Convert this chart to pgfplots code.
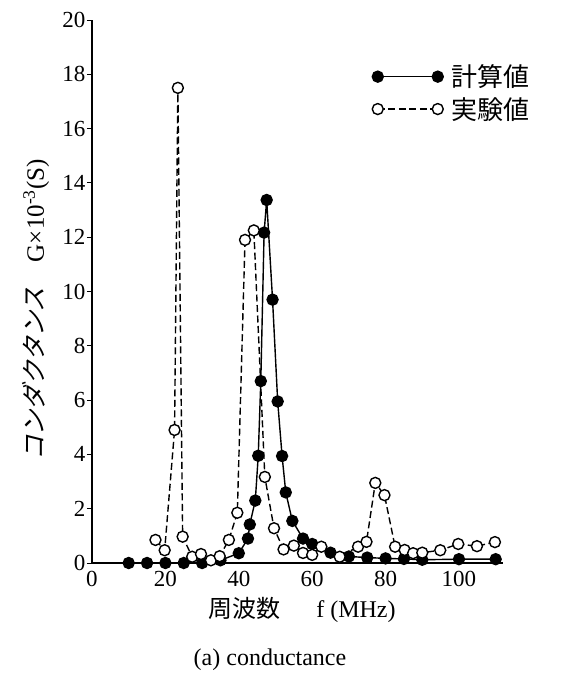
\documentclass[border=0pt]{standalone}
\usepackage{pgfplots}
\pgfplotsset{compat=1.18}
\usepackage{fontspec}
\setmainfont{Liberation Serif}
\newfontfamily\jp{Noto Sans CJK JP}
\newfontfamily\jpsl[FakeSlant=0.25]{Noto Sans CJK JP}

\pgfplotstableread{
x y
10 0
15 0
20 0
25 0
30 0
35 0.1
40 0.36
42.5 0.9
43 1.42
44.5 2.3
45.3 3.95
46 6.7
46.9 12.17
47.6 13.37
49.2 9.7
50.6 5.95
51.8 3.94
52.8 2.6
54.6 1.55
57.5 0.9
60 0.7
65 0.38
70 0.24
75 0.2
80 0.17
85 0.15
90 0.12
100 0.14
110 0.14
}\calc

\pgfplotstableread{
x y
17.3 0.85
19.8 0.47
22.5 4.9
23.4 17.5
24.7 0.97
27.3 0.23
29.7 0.33
32.4 0.1
34.8 0.25
37.3 0.85
39.6 1.85
41.7 11.9
44.1 12.25
47.1 3.17
49.6 1.28
52.2 0.5
55 0.64
57.5 0.37
60 0.3
62.5 0.6
67.5 0.23
72.5 0.6
74.8 0.78
77.2 2.95
79.7 2.5
82.6 0.6
85.2 0.48
87.5 0.36
90 0.38
94.9 0.47
99.8 0.7
104.9 0.62
109.8 0.77
}\expt

\begin{document}
\begin{tikzpicture}
\begin{axis}[
  at={(0,0)}, anchor=south west,
  scale only axis, width=411pt, height=543pt,
  xmin=0, xmax=112, ymin=0, ymax=20,
  axis lines=left,
  axis line style={-, line width=1.1pt},
  xtick={0,20,...,100}, ytick={0,2,...,20},
  tick align=outside, major tick length=5pt,
  xtick style={draw=none},
  ytick style={black, line width=0.9pt},
  ticklabel style={font=\fontsize{23}{26}\selectfont},
  yticklabel style={xshift=2pt},
  /pgf/number format/assume math mode=true,
  clip=false,
  legend style={at={(axis cs:75.5,18.5)}, anchor=north west, draw=none, fill=none,
    font=\jp\fontsize{26}{30}\selectfont, row sep=5pt,
    /tikz/every even column/.append style={column sep=6pt}},
  legend cell align=left,
  legend image code/.code={\draw[#1] plot coordinates {(0pt,0pt) (60pt,0pt)};},
]
\addplot[black, line width=1.4pt, mark=*, mark size=5.5pt, mark options={solid, fill=black}] table[x=x,y=y] {\calc};
\addlegendentry{\hspace{6pt}計算値}
\addplot[black, line width=1.4pt, dash pattern=on 7pt off 3.5pt, mark=*, mark size=5.5pt, mark options={solid, fill=white, line width=1.4pt}] table[x=x,y=y] {\expt};
\addlegendentry{\hspace{6pt}実験値}
\end{axis}
\node[rotate=90, font=\fontsize{25}{28}\selectfont] at (-56pt,253pt) {{\jpsl コンダクタンス}\hspace{1em}G×10\textsuperscript{-3}(S)};
\node[font=\fontsize{24}{28}\selectfont] at (210pt,-47pt) {{\jp 周波数}\hspace{1.5em}f (MHz)};
\node[font=\fontsize{24}{28}\selectfont] at (178pt,-97pt) {(a) conductance};
\path[use as bounding box] (-92pt,-119pt) rectangle (472pt,563pt);
\end{tikzpicture}
\end{document}
